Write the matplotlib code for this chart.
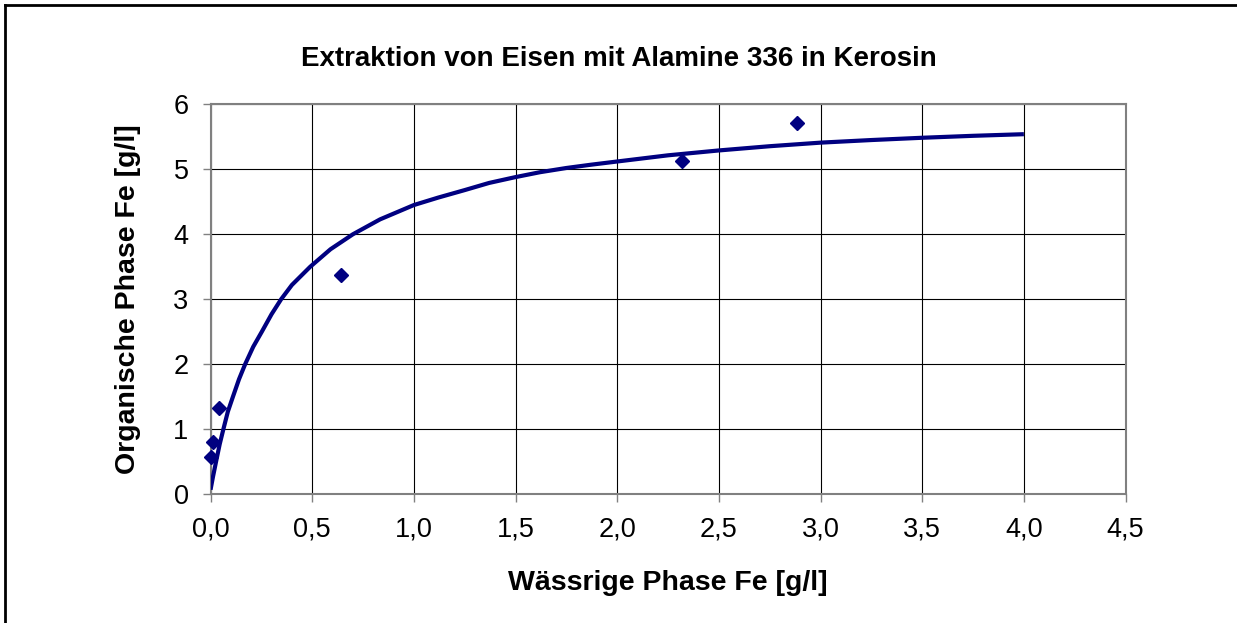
import numpy as np
import matplotlib.pyplot as plt
from matplotlib.lines import Line2D

plt.rcParams['font.family'] = ['Liberation Sans', 'DejaVu Sans']

# measured points
x_meas = [0.0, 0.011, 0.044, 0.64, 2.32, 2.885]
y_meas = [0.57, 0.81, 1.33, 3.37, 5.13, 5.71]

# fitted isotherm
x_fit = [0.0, 0.012, 0.027, 0.045, 0.063, 0.085, 0.11, 0.14, 0.17, 0.21,
         0.252, 0.30, 0.347, 0.40, 0.49, 0.59, 0.70, 0.834, 1.0, 1.12,
         1.25, 1.37, 1.5, 1.62, 1.75, 1.87, 2.0, 2.25, 2.5, 2.75, 3.0,
         3.25, 3.5, 3.75, 4.0]
y_fit = [0.07, 0.27, 0.5, 0.77, 1.0, 1.27, 1.5, 1.77, 2.0, 2.27,
         2.5, 2.77, 3.0, 3.22, 3.5, 3.77, 4.0, 4.23, 4.45, 4.565,
         4.68, 4.79, 4.88, 4.955, 5.02, 5.07, 5.12, 5.215, 5.29, 5.355, 5.41,
         5.45, 5.485, 5.515, 5.54]

x_ticks = [0.0, 0.5, 1.0, 1.5, 2.0, 2.5, 3.0, 3.5, 4.0, 4.5]
x_ticklabels = ['0,0', '0,5', '1,0', '1,5', '2,0', '2,5', '3,0', '3,5', '4,0', '4,5']
y_ticks = [0, 1, 2, 3, 4, 5, 6]

navy = '#000080'
gray = '#808080'

fig = plt.figure(figsize=(12.37, 6.23), dpi=100)
ax = fig.add_axes([0.1702, 0.2066, 0.7397, 0.626])

ax.plot(x_fit, y_fit, color=navy, lw=3, solid_capstyle='butt', zorder=3)
ax.plot(x_meas, y_meas, linestyle='none', marker='D', ms=7.5,
        color=navy, zorder=4, clip_on=False)

ax.set_xlim(0, 4.5)
ax.set_ylim(0, 6)
ax.set_xticks(x_ticks)
ax.set_xticklabels(x_ticklabels)
ax.set_yticks(y_ticks)
ax.grid(True, color='black', lw=0.8)
ax.set_axisbelow(True)

for s in ax.spines.values():
    s.set_color(gray)
    s.set_linewidth(1.5)

ax.tick_params(axis='both', direction='out', length=5.8, width=1,
               color=gray, labelsize=19.5)
ax.tick_params(axis='x', pad=10)
ax.tick_params(axis='y', pad=10)

fig.text(0.5, 1 - 59 / 623, 'Extraktion von Eisen mit Alamine 336 in Kerosin',
         ha='center', va='center', fontsize=20, fontweight='bold')
fig.text(667.5 / 1237, 1 - 583 / 623, 'Wässrige Phase Fe [g/l]',
         ha='center', va='center', fontsize=20.5, fontweight='bold')
fig.text(128 / 1237, 1 - 299 / 623, 'Organische Phase Fe [g/l]',
         ha='center', va='center', fontsize=20.5, fontweight='bold',
         rotation=90)

# chart border (only top and left visible in the picture)
fig.add_artist(Line2D([5 / 1237, 5 / 1237], [0, 1 - 5 / 623],
                      transform=fig.transFigure, color='black', lw=2))
fig.add_artist(Line2D([5 / 1237, 1], [1 - 5 / 623, 1 - 5 / 623],
                      transform=fig.transFigure, color='black', lw=2))

fig.savefig('out.png', dpi=100)
